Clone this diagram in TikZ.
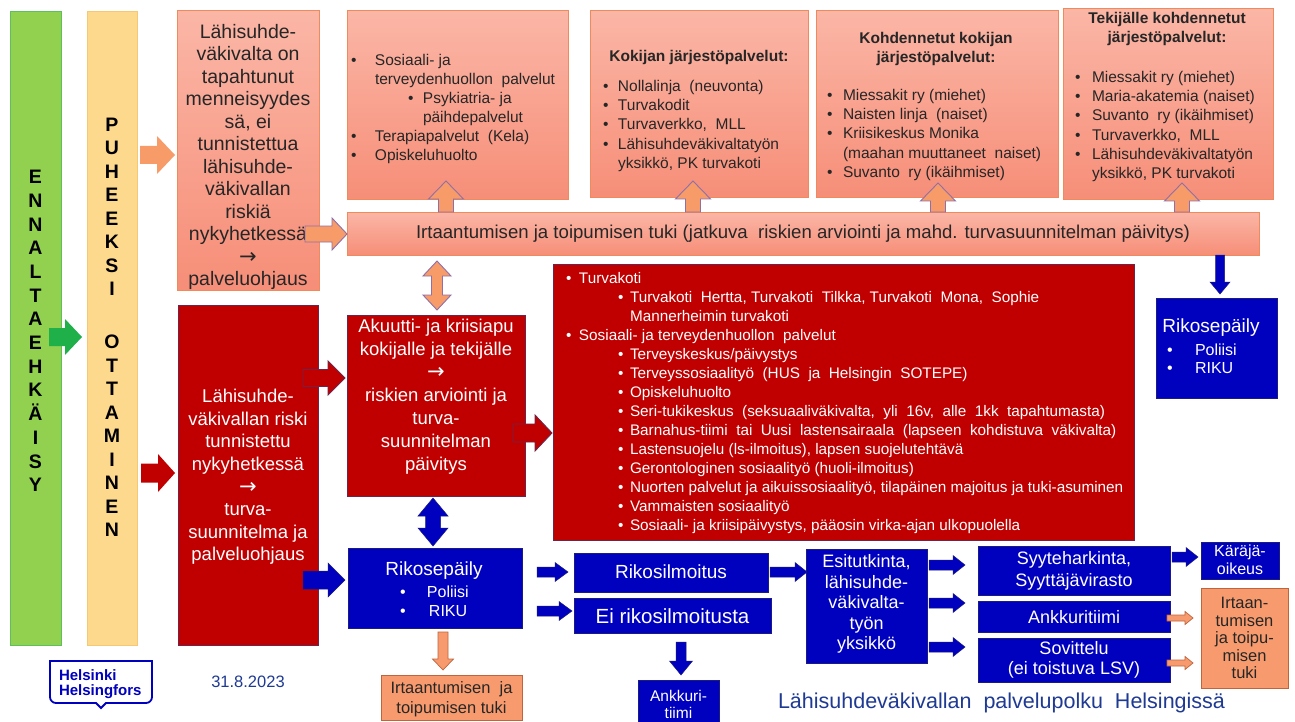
\documentclass[tikz,border=0pt]{standalone}
\usepackage{fontspec}
\setmainfont{Liberation Sans}
\newfontfamily\dejavu{DejaVu Sans}
\usepackage{graphicx}
\usetikzlibrary{calc}

\definecolor{salT}{HTML}{FBB6A6}
\definecolor{salB}{HTML}{F68E78}
\definecolor{salL}{HTML}{EE8A5C}
\definecolor{dkred}{HTML}{C00000}
\definecolor{redL}{HTML}{6E2448}
\definecolor{dkblue}{HTML}{0000BF}
\definecolor{blueL}{HTML}{1A1A80}
\definecolor{orF}{HTML}{F79B6E}
\definecolor{orL}{HTML}{C0643E}
\definecolor{arrOr}{HTML}{F79B68}
\definecolor{lilac}{HTML}{8F6FA8}
\definecolor{grn}{HTML}{92D050}
\definecolor{grnL}{HTML}{5CC05C}
\definecolor{yel}{HTML}{FDD98D}
\definecolor{yelL}{HTML}{F7C873}
\definecolor{grnA}{HTML}{1FB04A}
\definecolor{tgray}{HTML}{262626}
\definecolor{navy}{HTML}{1F3A93}
\definecolor{hkiblue}{HTML}{0000BF}

\newcommand\fsz[2]{\fontsize{#1pt}{#2pt}\selectfont}
\newcommand\bl[1]{\makebox[#1pt][l]{\textbullet}}
\newcommand\ind[1]{\hspace*{#1pt}}
\newcommand\rarr{{\dejavu\fontsize{21pt}{21pt}\selectfont →}}

\newcommand\boxat[6]{\node[#1, inner sep=0pt, outer sep=0pt, anchor=north west,
  minimum width={#5-#3}, minimum height={#6-#4}] (#2) at (#3,#4) {};}

% right-pointing block arrow: style, P (start, gives y), Q (tip), shaft, head, head length
\newcommand\harr[6]{%
  \path[#1] let \p1=#2, \p2=#3 in
  (\x1,{\y1+0.5*#4pt}) -- ({\x2-#6pt},{\y1+0.5*#4pt}) -- ({\x2-#6pt},{\y1+0.5*#5pt})
  -- (\x2,\y1) -- ({\x2-#6pt},{\y1-0.5*#5pt}) -- ({\x2-#6pt},{\y1-0.5*#4pt})
  -- (\x1,{\y1-0.5*#4pt}) -- cycle;}
% up arrow: P bottom (gives x), Q tip above
\newcommand\uarr[6]{%
  \path[#1] let \p1=#2, \p2=#3 in
  ({\x1-0.5*#4pt},\y1) -- ({\x1-0.5*#4pt},{\y2-#6pt}) -- ({\x1-0.5*#5pt},{\y2-#6pt})
  -- (\x1,\y2) -- ({\x1+0.5*#5pt},{\y2-#6pt}) -- ({\x1+0.5*#4pt},{\y2-#6pt})
  -- ({\x1+0.5*#4pt},\y1) -- cycle;}
% down arrow: P top (gives x), Q tip below
\newcommand\darr[6]{%
  \path[#1] let \p1=#2, \p2=#3 in
  ({\x1-0.5*#4pt},\y1) -- ({\x1-0.5*#4pt},{\y2+#6pt}) -- ({\x1-0.5*#5pt},{\y2+#6pt})
  -- (\x1,\y2) -- ({\x1+0.5*#5pt},{\y2+#6pt}) -- ({\x1+0.5*#4pt},{\y2+#6pt})
  -- ({\x1+0.5*#4pt},\y1) -- cycle;}
% double vertical arrow: P top tip (gives x), Q bottom tip
\newcommand\vvarr[6]{%
  \path[#1] let \p1=#2, \p2=#3 in
  (\x1,\y1) -- ({\x1+0.5*#5pt},{\y1-#6pt}) -- ({\x1+0.5*#4pt},{\y1-#6pt})
  -- ({\x1+0.5*#4pt},{\y2+#6pt}) -- ({\x1+0.5*#5pt},{\y2+#6pt}) -- (\x1,\y2)
  -- ({\x1-0.5*#5pt},{\y2+#6pt}) -- ({\x1-0.5*#4pt},{\y2+#6pt})
  -- ({\x1-0.5*#4pt},{\y1-#6pt}) -- ({\x1-0.5*#5pt},{\y1-#6pt}) -- cycle;}

\tikzset{
  salbox/.style={draw=salL, line width=1pt, top color=salT, bottom color=salB},
  redbox/.style={draw=redL, line width=1pt, fill=dkred},
  bluebox/.style={draw=blueL, line width=0.6pt, fill=dkblue},
  orbox/.style={draw=orL, line width=0.8pt, fill=orF},
  grnbox/.style={draw=grnL, line width=1pt, fill=grn},
  yelbox/.style={draw=yelL, line width=1pt, fill=yel},
  tx/.style={inner sep=0pt, outer sep=0pt, text=tgray},
  wtx/.style={inner sep=0pt, outer sep=0pt, text=white},
  lst/.style={align=left, anchor=north west},
  aG/.style={fill=grnA},
  aO/.style={fill=arrOr},
  aOo/.style={fill=arrOr, draw=lilac, line width=0.9pt},
  aR/.style={fill=dkred},
  aRo/.style={fill=dkred, draw=redL, line width=0.9pt},
  aB/.style={fill=dkblue, draw=blueL, line width=0.5pt},
  aS/.style={fill=orF, draw=orL, line width=0.7pt},
}

\begin{document}
\begin{tikzpicture}[x=1pt,y=-1pt]
\fill[white] (0,0) rectangle (1295,722);
\useasboundingbox (0,0) rectangle (1295,722);

% ---------- boxes ----------
\boxat{grnbox}{gbar}{10}{12}{61}{645}
\boxat{yelbox}{ybar}{87}{12}{137}{645}
\boxat{salbox}{tl}{177}{11}{319}{290}
\boxat{redbox}{redL}{178}{305}{318}{645}
\boxat{salbox}{bar}{347}{212}{1259}{255}
\boxat{salbox}{b1}{347}{11}{568}{200}
\boxat{salbox}{b2}{590}{11}{808}{198}
\boxat{salbox}{b3}{816}{11}{1058}{198}
\boxat{salbox}{b4}{1063}{9}{1273}{200}
\boxat{redbox}{aku}{347}{315}{525}{496}
\boxat{redbox}{list}{553}{264}{1134}{540}
\boxat{bluebox}{rik}{348}{548}{522}{628}
\boxat{orbox}{irt}{381}{675}{522}{720}
\boxat{bluebox}{rik2}{1156}{298}{1277}{398}
\boxat{bluebox}{rikil}{574}{553}{768}{592}
\boxat{bluebox}{ei}{574}{598}{771}{633}
\boxat{bluebox}{ank}{638}{680}{719}{726}
\boxat{bluebox}{esi}{806}{549}{927}{663}
\boxat{bluebox}{syy}{978}{546}{1170}{595}
\boxat{bluebox}{ankt}{978}{601}{1170}{632}
\boxat{bluebox}{sov}{978}{638}{1170}{682}
\boxat{bluebox}{kar}{1201}{542}{1279}{579}
\boxat{orbox}{irt2}{1201}{588}{1288}{688}

% ---------- texts ----------
\node[tx, align=center, font=\fsz{19.5}{23.7}\bfseries, text=black] (ennT) at (35.5,331)
  {E\\N\\N\\A\\L\\T\\A\\E\\H\\K\\Ä\\I\\S\\Y};
\node[tx, align=center, font=\fsz{19.5}{23.5}\bfseries, text=black] (puhT) at (112,207)
  {P\\U\\H\\E\\E\\K\\S\\I};
\node[tx, align=center, font=\fsz{19.5}{23.5}\bfseries, text=black] (ottT) at (112,436)
  {O\\T\\T\\A\\M\\I\\N\\E\\N};

\node[tx, align=center, font=\fsz{19.5}{22.5}] (tlT) at (248,157)
  {Lähisuhde-\\väkivalta on\\tapahtunut\\menneisyydes\\sä, ei\\tunnistettua\\lähisuhde-\\väkivallan\\riskiä\\nykyhetkessä\\\rarr\\palveluohjaus};
\node[wtx, align=center, font=\fsz{18.5}{22.6}] (redT) at (248,477)
  {Lähisuhde-\\väkivallan riski\\tunnistettu\\nykyhetkessä\\\rarr\\turva-\\suunnitelma ja\\palveluohjaus};
\node[wtx, align=center, font=\fsz{18.5}{23}] (akuT) at (436,397)
  {Akuutti- ja kriisiapu\\kokijalle ja tekijälle\\\rarr\\riskien arviointi ja\\turva-\\suunnitelman\\päivitys};

\node[tx, font=\fsz{18.6}{21}] (barT) at (803,234)
  {Irtaantumisen ja toipumisen tuki (jatkuva\ \ riskien arviointi ja mahd. turvasuunnitelman päivitys)};

\node[tx, lst, font=\fsz{15.5}{19}] (b1T) at (351,54.3)
  {\bl{24}Sosiaali- ja\\\ind{24}terveydenhuollon\ \ palvelut\\\ind{57}\bl{15}Psykiatria- ja\\\ind{72}päihdepalvelut\\\bl{24}Terapiapalvelut\ \ (Kela)\\\bl{24}Opiskeluhuolto};

\node[tx, font=\fsz{15.5}{19}\bfseries] (b2H) at (699,57) {Kokijan järjestöpalvelut:};
\node[tx, lst, font=\fsz{15.5}{19.2}] (b2T) at (603,80.3)
  {\bl{15}Nollalinja\ \ (neuvonta)\\\bl{15}Turvakodit\\\bl{15}Turvaverkko,\ \ MLL\\\bl{15}Lähisuhdeväkivaltatyön\\\ind{15}yksikkö, PK turvakoti};

\node[tx, align=center, font=\fsz{15.5}{19}\bfseries] (b3H) at (936,48.5) {Kohdennetut kokijan\\järjestöpalvelut:};
\node[tx, lst, font=\fsz{15.5}{19.2}] (b3T) at (827,89.3)
  {\bl{16}Miessakit ry (miehet)\\\bl{16}Naisten linja\ \ (naiset)\\\bl{16}Kriisikeskus Monika\\\ind{16}(maahan muuttaneet\ \ naiset)\\\bl{16}Suvanto\ \ ry (ikäihmiset)};

\node[tx, align=center, font=\fsz{15.5}{19.5}\bfseries] (b4H) at (1167,29) {Tekijälle kohdennetut\\järjestöpalvelut:};
\node[tx, lst, font=\fsz{15.5}{19.2}] (b4T) at (1075,71.3)
  {\bl{17}Miessakit ry (miehet)\\\bl{17}Maria-akatemia (naiset)\\\bl{17}Suvanto\ \ ry (ikäihmiset)\\\bl{17}Turvaverkko,\ \ MLL\\\bl{17}Lähisuhdeväkivaltatyön\\\ind{17}yksikkö, PK turvakoti};

\node[wtx, lst, font=\fsz{15.3}{19}] (listT) at (566,272.3)
  {\bl{13}Turvakoti\\
   \ind{52}\bl{12}Turvakoti\ \ Hertta,\ Turvakoti\ \ Tilkka,\ Turvakoti\ \ Mona,\ \ Sophie\\
   \ind{64}Mannerheimin turvakoti\\
   \bl{13}Sosiaali- ja terveydenhuollon\ \ palvelut\\
   \ind{52}\bl{12}Terveyskeskus/päivystys\\
   \ind{52}\bl{12}Terveyssosiaalityö\ \ (HUS\ \ ja\ \ Helsingin\ \ SOTEPE)\\
   \ind{52}\bl{12}Opiskeluhuolto\\
   \ind{52}\bl{12}Seri-tukikeskus\ \ (seksuaaliväkivalta,\ \ yli\ \ 16v,\ \ alle\ \ 1kk\ \ tapahtumasta)\\
   \ind{52}\bl{12}Barnahus-tiimi\ \ tai\ \ Uusi\ \ lastensairaala\ \ (lapseen\ \ kohdistuva\ \ väkivalta)\\
   \ind{52}\bl{12}Lastensuojelu (ls-ilmoitus), lapsen suojelutehtävä\\
   \ind{52}\bl{12}Gerontologinen sosiaalityö (huoli-ilmoitus)\\
   \ind{52}\bl{12}Nuorten palvelut ja aikuissosiaalityö, tilapäinen majoitus ja tuki-asuminen\\
   \ind{52}\bl{12}Vammaisten sosiaalityö\\
   \ind{52}\bl{12}Sosiaali- ja kriisipäivystys, pääosin virka-ajan ulkopuolella};

\node[wtx, font=\fsz{19}{22}] (rik2H) at (1211,328) {Rikosepäily};
\node[wtx, anchor=west, font=\fsz{16}{19}] (rik2a) at (1167,350) {\bl{28}Poliisi};
\node[wtx, anchor=west, font=\fsz{16}{19}] (rik2b) at (1167,368) {\bl{28}RIKU};

\node[wtx, font=\fsz{19}{22}] (rikH) at (434,571) {Rikosepäily};
\node[wtx, anchor=west, font=\fsz{16}{19}] (rika) at (400,592) {\bl{27}Poliisi};
\node[wtx, anchor=west, font=\fsz{16}{19}] (rikb) at (400,611) {\bl{29}RIKU};

\node[tx, align=center, font=\fsz{16.5}{20}] (irtT) at (451.5,699) {Irtaantumisen\ \ ja\\toipumisen tuki};
\node[wtx, font=\fsz{19}{22}] (rikilT) at (671,572) {Rikosilmoitus};
\node[wtx, font=\fsz{20.5}{23}] (eiT) at (672.5,616) {Ei rikosilmoitusta};
\node[wtx, align=center, font=\fsz{15.5}{17}] (ankT) at (678.5,704) {Ankkuri-\\tiimi};
\node[wtx, align=center, font=\fsz{18}{20.5}] (esiT) at (866.5,604) {Esitutkinta,\\lähisuhde-\\väkivalta-\\työn\\yksikkö};
\node[wtx, align=center, font=\fsz{18}{22}] (syyT) at (1074,571) {Syyteharkinta,\\Syyttäjävirasto};
\node[wtx, font=\fsz{18}{21}] (anktT) at (1074,617) {Ankkuritiimi};
\node[wtx, align=center, font=\fsz{18}{19.5}] (sovT) at (1074,660) {Sovittelu\\(ei toistuva LSV)};
\node[wtx, align=center, font=\fsz{16}{18}] (karT) at (1240,560) {Käräjä-\\oikeus};
\node[tx, align=center, font=\fsz{16.5}{17.5}] (irt2T) at (1244.5,638) {Irtaan-\\tumisen\\ja toipu-\\misen\\tuki};

\node[tx, text=navy, font=\fsz{16.5}{20}] (dateT) at (248,682) {31.8.2023};
\node[tx, text=navy, anchor=west, font=\fsz{21.5}{24}] (titleT) at (778,703) {Lähisuhdeväkivallan\ \ palvelupolku\ \ Helsingissä};

% logo
\draw[hkiblue, line width=1.8pt] (50,661) -- (152,661) -- (152,697)
  arc[start angle=0, end angle=90, radius=6] -- (106,703) -- (101,708) -- (96,703) -- (56,703)
  arc[start angle=90, end angle=180, radius=6] -- cycle;
\node[tx, text=hkiblue, align=left, anchor=west, font=\fsz{15}{15}\bfseries] (logoT) at (59,684.5) {Helsinki\\Helsingfors};

% ---------- arrows ----------
\harr{aG}{($(gbar.east |- 0,337)+(-12,0)$)}{($(ybar.west |- 0,337)+(-5,0)$)}{18}{36}{17}
\harr{aO}{($(ybar.east |- 0,155)+(3,0)$)}{($(tl.west |- 0,155)+(-2,0)$)}{18}{38}{18}
\harr{aR}{($(ybar.east |- 0,473)+(4,0)$)}{($(redL.west |- 0,473)+(-3,0)$)}{19}{38}{17}
\harr{aOo}{($(tl.east |- 0,234)+(-14,0)$)}{(bar.west |- 0,234)}{16}{32}{15}

\uarr{aOo}{(bar.north -| 446,0)}{($(b1.south -| 446,0)+(0,-19)$)}{15}{35}{18}
\uarr{aOo}{(bar.north -| 693,0)}{($(b2.south -| 693,0)+(0,-17)$)}{15}{35}{18}
\uarr{aOo}{(bar.north -| 938,0)}{($(b3.south -| 938,0)+(0,-15)$)}{15}{35}{18}
\uarr{aOo}{(bar.north -| 1182,0)}{($(b4.south -| 1182,0)+(0,-17)$)}{15}{35}{18}

\vvarr{aOo}{($(bar.south -| 437,0)+(0,6)$)}{($(aku.north -| 437,0)+(0,-5)$)}{11}{28}{15}

\harr{aRo}{($(redL.east |- 0,378)+(-15,0)$)}{($(aku.west |- 0,378)+(-2,0)$)}{17}{34}{17}
\harr{aRo}{($(aku.east |- 0,433)+(-12,0)$)}{($(list.west |- 0,433)+(-1,0)$)}{18}{36}{17}
\harr{aB}{($(redL.east |- 0,580)+(-15,0)$)}{($(rik.west |- 0,580)+(-3,0)$)}{18}{34}{17}

\vvarr{aB}{($(aku.south -| 433,0)+(0,2)$)}{($(rik.north -| 433,0)+(0,-2)$)}{15}{30}{18}
\darr{aS}{($(rik.south -| 443,0)+(0,4)$)}{($(irt.north -| 443,0)+(0,-5)$)}{10}{21}{11}

\harr{aB}{($(rik.east |- 0,572)+(15,0)$)}{($(rikil.west |- 0,572)+(-6,0)$)}{10}{19}{13}
\harr{aB}{($(rik.east |- 0,611)+(15,0)$)}{($(ei.west |- 0,611)+(-2,0)$)}{10}{19}{13}
\darr{aB}{($(ei.south -| 681,0)+(0,9)$)}{($(ank.north -| 681,0)+(0,-5)$)}{10}{23}{14}
\harr{aB}{($(rikil.east |- 0,572)+(2,0)$)}{($(esi.west |- 0,572)+(1,0)$)}{10}{19}{12}
\harr{aB}{($(esi.east |- 0,565)+(2,0)$)}{($(syy.west |- 0,565)+(-13,0)$)}{10}{19}{12}
\harr{aB}{($(esi.east |- 0,603)+(2,0)$)}{($(ankt.west |- 0,603)+(-13,0)$)}{10}{19}{12}
\harr{aB}{($(esi.east |- 0,647)+(2,0)$)}{($(sov.west |- 0,647)+(-13,0)$)}{10}{19}{12}
\harr{aB}{($(syy.east |- 0,557)+(2,0)$)}{($(kar.west |- 0,557)+(-3,0)$)}{10}{19}{12}
\harr{aS}{($(ankt.east |- 0,618)+(-3,0)$)}{($(irt2.west |- 0,618)+(-8,0)$)}{6}{13}{8}
\harr{aS}{($(sov.east |- 0,663)+(-3,0)$)}{($(irt2.west |- 0,663)+(-8,0)$)}{6}{13}{8}
\darr{aB}{(bar.south -| 1220,0)}{($(rik2.north -| 1220,0)+(0,-4)$)}{9}{20}{12}
\end{tikzpicture}
\end{document}
